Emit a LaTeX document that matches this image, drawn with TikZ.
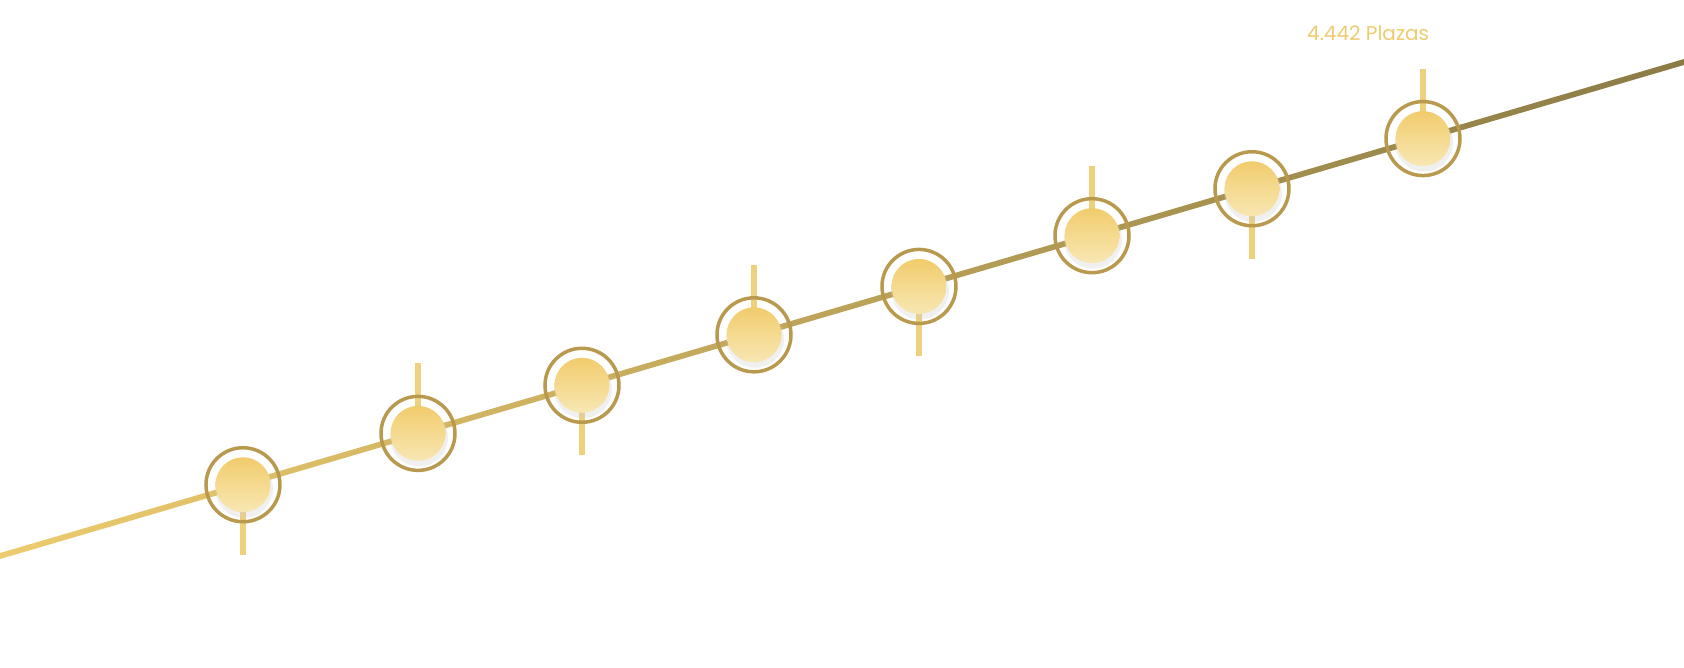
\documentclass[tikz,border=0pt]{standalone}
\usepackage{fontspec}
\setmainfont{Poppins}
\usetikzlibrary{calc,shadings}
\definecolor{goldL}{HTML}{EDCB6E}
\definecolor{goldD}{HTML}{8B7B45}
\definecolor{goldM}{HTML}{B8994E}
\definecolor{fillT}{HTML}{F1CC6C}
\definecolor{fillB}{HTML}{F8E7B4}
\begin{document}
\begin{tikzpicture}[x=1pt,y=-1pt,
  tick/.style={draw=goldL,line width=6pt,opacity=0.9},
  ring/.style={circle,minimum size=74pt,inner sep=0pt,draw=goldM,line width=3.5pt},
  core/.style={circle,minimum size=55pt,inner sep=0pt,top color=fillT,bottom color=fillB,draw=none}]
\useasboundingbox (0,0) rectangle (1684,667);
\coordinate (L0) at (0,556);
\coordinate (L1) at (1684,62);
\shade[left color=goldL,right color=goldD] (0,553) -- (1684,59) -- (1684,65) -- (0,559) -- cycle;
\foreach \i/\x/\d in {1/243/1,2/418/-1,3/582/1,4/754/-1,5/919/1,6/1092/-1,7/1252/1,8/1423/-1}{
  \coordinate (c\i) at ($(L0)!{\x/1684}!(L1)$);
  \coordinate (t\i) at ($(c\i)+(0,\d*70)$);
  \draw[tick] (c\i) -- (t\i);
  \node[ring] (r\i) at (c\i) {};
  \fill[black!20,opacity=0.3] ($(c\i)+(1,4)$) circle (29pt);
  \node[core] (k\i) at (c\i) {};
}
\node[text=goldL,font=\fontsize{20}{24}\selectfont,anchor=base west,inner sep=0pt] (lab) at (1307,40) {4.442 Plazas};
\end{tikzpicture}
\end{document}
